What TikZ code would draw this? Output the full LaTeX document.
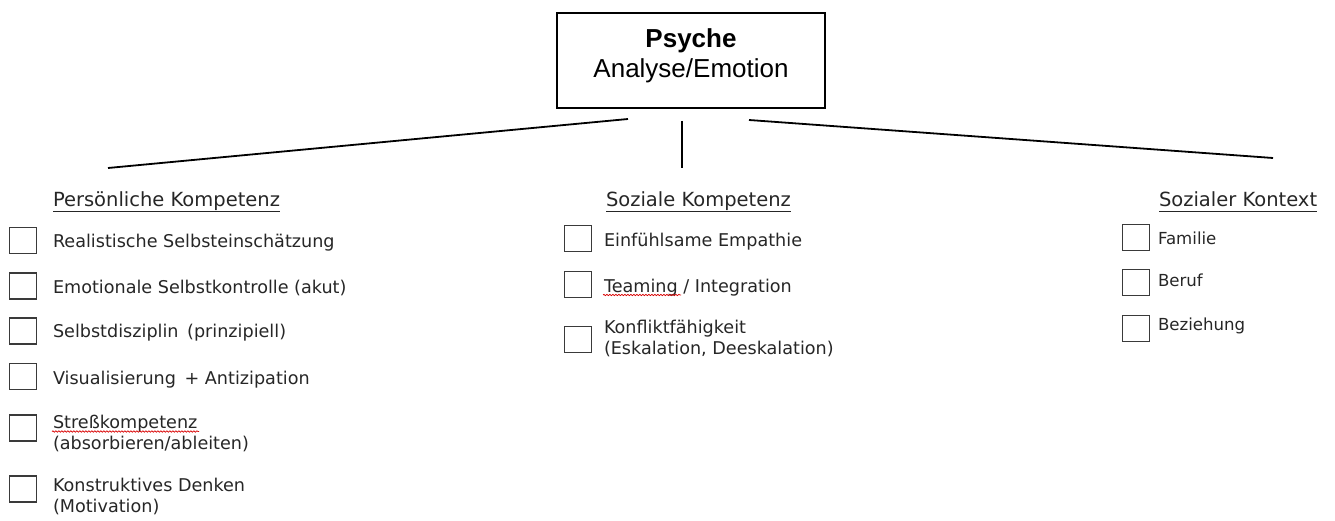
\documentclass[tikz,border=0pt]{standalone}
\usepackage{fontspec}
\setmainfont{DejaVu Sans}
\newfontfamily\titlefont{Liberation Sans}
\usetikzlibrary{decorations.pathmorphing}
\definecolor{ink}{HTML}{262626}
\definecolor{boxline}{HTML}{3A3A3A}
\begin{document}
\begin{tikzpicture}[x=1pt,y=-1pt,
  txt/.style={inner sep=0pt, outer sep=0pt, anchor=base west, text=ink, align=left},
  head/.style={txt, font=\fontsize{19.5}{24}\selectfont},
  item/.style={txt, font=\fontsize{17.6}{21}\selectfont},
  itemsm/.style={txt, font=\fontsize{16.6}{21}\selectfont},
  tick/.style={draw=boxline, line width=1.3pt, minimum width=27pt, minimum height=26pt, inner sep=0pt},
  titlebox/.style={draw=black, line width=2pt, minimum width=268pt, minimum height=95pt, inner sep=0pt},
  titletext/.style={inner sep=0pt, anchor=base, align=center, text=black,
    font=\titlefont\fontsize{26}{30}\selectfont},
  branch/.style={line width=1.8pt, black},
  ul/.style={line width=1pt, ink},
  spell/.style={red!85!black, line width=0.7pt, decorate,
    decoration={snake, amplitude=0.7pt, segment length=3pt}}
]
\useasboundingbox (0,0) rectangle (1335,521);

% central box (multi-line nodes are placed by the baseline of their last line)
\node[titlebox] (psyche) at (691,60.5) {};
\node[titletext] (psycheText) at (691,78) {\textbf{Psyche}\\Analyse/Emotion};

% branches below the box
\coordinate (bl0) at (628,119);  \coordinate (bl1) at (108,168);
\coordinate (bm0) at (682,121);  \coordinate (bm1) at (682,168);
\coordinate (br0) at (749,120);  \coordinate (br1) at (1273,158);
\draw[branch] (bl0) -- (bl1);
\draw[branch] (bm0) -- (bm1);
\draw[branch] (br0) -- (br1);

% column headings
\node[head] (hP) at (53,207) {Persönliche Kompetenz};
\node[head] (hS) at (606,206.5) {Soziale Kompetenz};
\node[head] (hK) at (1159,207) {Sozialer Kontext};
\foreach \h in {hP,hS,hK}
  \draw[ul] ([yshift=-4.8pt]\h.base west) -- ([yshift=-4.8pt]\h.base east);

% personal competence
\node[tick] (p1box) at (23,240.5) {};
\node[tick] (p2box) at (23,286) {};
\node[tick] (p3box) at (23,331) {};
\node[tick] (p4box) at (23,376.5) {};
\node[tick] (p5box) at (23,428) {};
\node[tick] (p6box) at (23,489) {};
\node[item] (p1) at (53,248) {Realistische Selbsteinschätzung};
\node[item] (p2) at (53,293) {Emotionale Selbstkontrolle (akut)};
\node[item] (p3) at (53,337.5) {Selbstdisziplin\, (prinzipiell)};
\node[item] (p4) at (53,384) {Visualisierung\, + Antizipation};
\node[item] (p5) at (53,449.5) {Streßkompetenz\\(absorbieren/ableiten)};
\node[item] (p6) at (53,512) {Konstruktives Denken\\(Motivation)};
\draw[spell] ([yshift=18pt,xshift=-1pt]p5.base west) -- ++(147,0);

% social competence
\node[tick] (s1box) at (578,238.5) {};
\node[tick] (s2box) at (578,284.5) {};
\node[tick] (s3box) at (578,339.5) {};
\node[item] (s1) at (604,247) {Einfühlsame Empathie};
\node[item] (s2) at (604,292) {Teaming / Integration};
\node[item] (s3) at (604,354) {Konfliktfähigkeit\\(Eskalation, Deeskalation)};
\draw[spell] ([yshift=-3pt,xshift=-1pt]s2.base west) -- ++(78,0);

% social context
\node[tick] (k1box) at (1136,237.5) {};
\node[tick] (k2box) at (1136,282.5) {};
\node[tick] (k3box) at (1136,328.5) {};
\node[itemsm] (k1) at (1158,244) {Familie};
\node[itemsm] (k2) at (1158,287) {Beruf};
\node[itemsm] (k3) at (1158,330) {Beziehung};
\end{tikzpicture}
\end{document}
